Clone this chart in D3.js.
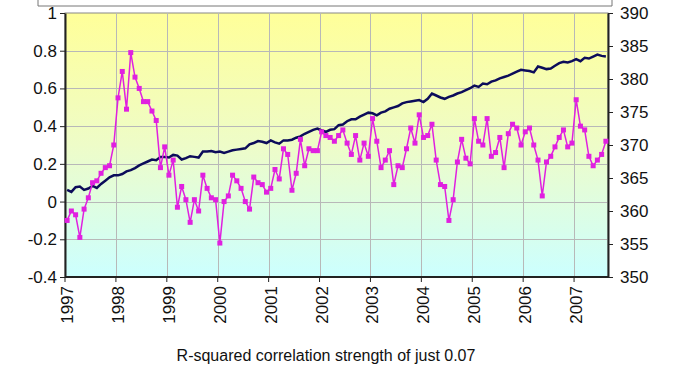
<!DOCTYPE html>
<html>
<head>
<meta charset="utf-8">
<script src="https://cdn.jsdelivr.net/npm/d3@7"></script>
<style>
  body { margin: 0; background: #fff; }
  svg text { font-family: "Liberation Sans", Arial, sans-serif; fill: #111; }
</style>
</head>
<body>
<div id="chart"></div>
<script>
// monthly temperature anomaly, Jan 1997 .. Aug 2007
const temps = [
  -0.10, -0.05, -0.07, -0.19, -0.04, 0.02, 0.10, 0.11, 0.15, 0.18, 0.19, 0.30,
  0.55, 0.69, 0.49, 0.79, 0.66, 0.60, 0.53, 0.53, 0.48, 0.43, 0.18, 0.29,
  0.14, 0.22, -0.03, 0.08, 0.01, -0.11, 0.01, -0.05, 0.14, 0.07, 0.02, 0.01,
  -0.22, 0.00, 0.03, 0.14, 0.11, 0.07, 0.00, -0.04, 0.13, 0.10, 0.09, 0.05,
  0.07, 0.17, 0.12, 0.28, 0.25, 0.06, 0.15, 0.33, 0.19, 0.28, 0.27, 0.27,
  0.37, 0.35, 0.34, 0.32, 0.35, 0.38, 0.31, 0.25, 0.35, 0.22, 0.31, 0.24,
  0.44, 0.32, 0.18, 0.22, 0.27, 0.09, 0.19, 0.18, 0.28, 0.39, 0.31, 0.46,
  0.34, 0.35, 0.41, 0.22, 0.09, 0.08, -0.10, 0.01, 0.21, 0.33, 0.23, 0.20,
  0.44, 0.32, 0.30, 0.44, 0.24, 0.26, 0.34, 0.18, 0.36, 0.41, 0.39, 0.30,
  0.37, 0.39, 0.30, 0.22, 0.03, 0.21, 0.24, 0.29, 0.34, 0.38, 0.29, 0.31,
  0.54, 0.40, 0.38, 0.24, 0.19, 0.22, 0.25, 0.32
];
// CO2 ppm, same months
const co2 = [
  363.2, 362.9, 363.6, 363.7, 363.2, 363.4, 363.8, 363.5, 364.1, 364.6, 365.1, 365.4,
  365.4, 365.6, 366.0, 366.2, 366.5, 366.9, 367.2, 367.5, 367.8, 367.7, 368.2, 368.2,
  368.1, 368.5, 368.4, 367.8, 368.0, 368.3, 368.2, 368.1, 369.0, 369.0, 369.1, 368.9,
  369.0, 368.8, 369.0, 369.2, 369.3, 369.4, 369.5, 370.1, 370.3, 370.6, 370.5, 370.3,
  370.7, 370.4, 370.2, 370.7, 370.7, 370.8, 371.1, 371.3, 371.7, 372.0, 372.3, 372.5,
  372.2, 372.0, 372.3, 372.4, 373.0, 373.1, 373.6, 373.9, 373.9, 374.3, 374.6, 374.9,
  374.8, 374.5, 374.9, 375.1, 375.5, 375.7, 375.9, 376.3, 376.5, 376.6, 376.7, 376.8,
  376.5, 377.0, 377.8, 377.5, 377.2, 377.0, 377.3, 377.5, 377.8, 378.0, 378.3, 378.6,
  379.0, 378.8, 379.3, 379.2, 379.6, 379.8, 380.1, 380.3, 380.5, 380.8, 381.1, 381.4,
  381.3, 381.2, 381.0, 381.9, 381.7, 381.5, 381.6, 382.0, 382.4, 382.6, 382.5, 382.7,
  383.0, 382.7, 383.2, 383.1, 383.4, 383.7, 383.5, 383.4
];
const years = ["1997","1998","1999","2000","2001","2002","2003","2004","2005","2006","2007"];
const leftTicks = [1, 0.8, 0.6, 0.4, 0.2, 0, -0.2, -0.4];
const leftLabels = ["1","0.8","0.6","0.4","0.2","0","-0.2","-0.4"];
const rightTicks = [390, 385, 380, 375, 370, 365, 360, 355, 350];
const caption = "R-squared correlation strength of just 0.07";

const width = 678, height = 381;
const m = { left: 65, right: 608, top: 13, bottom: 277 };

const svg = d3.select("#chart").append("svg")
  .attr("width", width)
  .attr("height", height);

const x = d3.scaleLinear().domain([0, 128]).range([m.left, m.right]);
const y = d3.scaleLinear().domain([-0.4, 1]).range([m.bottom, m.top]);
const y2 = d3.scaleLinear().domain([350, 390]).range([m.bottom, m.top]);

// frame of the box above the chart (cut off)
svg.append("path")
  .attr("d", "M38,0V6H612V0")
  .attr("fill", "none")
  .attr("stroke", "#777")
  .attr("stroke-width", 1);

const grad = svg.append("defs").append("linearGradient")
  .attr("id", "bg").attr("x1", 0).attr("y1", 0).attr("x2", 0).attr("y2", 1);
grad.append("stop").attr("offset", "0%").attr("stop-color", "#ffff99");
grad.append("stop").attr("offset", "50%").attr("stop-color", "#eefcc8");
grad.append("stop").attr("offset", "100%").attr("stop-color", "#ccffff");

svg.append("rect")
  .attr("x", m.left).attr("y", m.top)
  .attr("width", m.right - m.left).attr("height", m.bottom - m.top)
  .attr("fill", "url(#bg)")
  .attr("stroke", "#888");

// grid
svg.append("g")
  .attr("stroke", "#b8b8b8").attr("stroke-width", 1)
  .selectAll("line").data(leftTicks.slice(1, -1)).join("line")
  .attr("x1", m.left).attr("x2", m.right)
  .attr("y1", d => Math.round(y(d)) + 0.5).attr("y2", d => Math.round(y(d)) + 0.5);
svg.append("g")
  .attr("stroke", "#b8b8b8").attr("stroke-width", 1)
  .selectAll("line").data(years.slice(1)).join("line")
  .attr("x1", (d, i) => Math.round(x((i + 1) * 12)) + 0.5)
  .attr("x2", (d, i) => Math.round(x((i + 1) * 12)) + 0.5)
  .attr("y1", m.top).attr("y2", m.bottom);

// left axis
const axL = svg.append("g").attr("transform", `translate(${m.left},0)`)
  .call(d3.axisLeft(y).tickValues(leftTicks).tickSize(5).tickSizeOuter(0)
    .tickFormat((d, i) => leftLabels[i]));
axL.select(".domain").attr("stroke", "#222").attr("stroke-width", 2);
axL.selectAll(".tick line").attr("stroke", "#222");
axL.selectAll(".tick text").attr("font-size", 17).attr("x", -8).attr("fill", "#111");

// right axis
const axR = svg.append("g").attr("transform", `translate(${m.right},0)`)
  .call(d3.axisRight(y2).tickValues(rightTicks).tickSize(5).tickSizeOuter(0));
axR.select(".domain").attr("stroke", "#222").attr("stroke-width", 2);
axR.selectAll(".tick line").attr("stroke", "#222");
axR.selectAll(".tick text").attr("font-size", 17).attr("x", 12).attr("fill", "#111");

// bottom axis
const axB = svg.append("g").attr("transform", `translate(0,${m.bottom})`);
axB.append("line").attr("x1", m.left).attr("x2", m.right)
  .attr("stroke", "#222").attr("stroke-width", 2);
axB.selectAll("line.t").data(years).join("line")
  .attr("class", "t")
  .attr("x1", (d, i) => x(i * 12)).attr("x2", (d, i) => x(i * 12))
  .attr("y1", 0).attr("y2", 5).attr("stroke", "#222");
axB.selectAll("text").data(years).join("text")
  .attr("transform", (d, i) => `translate(${x(i * 12) + 8},9) rotate(-90)`)
  .attr("text-anchor", "end")
  .attr("font-size", 17)
  .text(d => d);

// CO2 line
svg.append("path")
  .datum(co2)
  .attr("fill", "none")
  .attr("stroke", "#0c0c5a")
  .attr("stroke-width", 2.5)
  .attr("d", d3.line().x((d, i) => x(i + 0.5)).y(d => y2(d)));

// temperature line with square markers
svg.append("path")
  .datum(temps)
  .attr("fill", "none")
  .attr("stroke", "#e020e0")
  .attr("stroke-width", 1.5)
  .attr("d", d3.line().x((d, i) => x(i + 0.5)).y(d => y(d)));
svg.append("g")
  .attr("fill", "#e020e0")
  .selectAll("rect").data(temps).join("rect")
  .attr("x", (d, i) => x(i + 0.5) - 2.5)
  .attr("y", d => y(d) - 2.5)
  .attr("width", 5).attr("height", 5);

svg.append("text")
  .attr("x", 326).attr("y", 361)
  .attr("text-anchor", "middle")
  .attr("font-size", 16)
  .text(caption);
</script>
</body>
</html>
